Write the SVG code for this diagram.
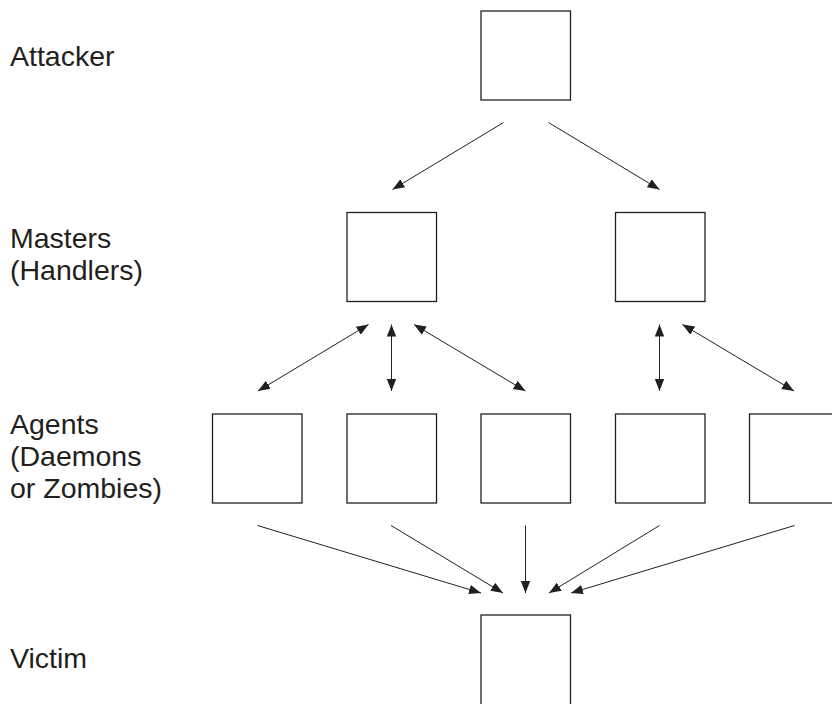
<svg xmlns="http://www.w3.org/2000/svg" width="832" height="704" viewBox="0 0 832 704">
  <defs>
    <marker id="arrow" markerUnits="userSpaceOnUse" markerWidth="13" markerHeight="11" viewBox="0 0 13 11" refX="12" refY="5.5" orient="auto-start-reverse">
      <path d="M0,0.8 L12,5.5 L0,10.2 z" fill="#231f20"/>
    </marker>
  </defs>
  <style>
    .box { fill: #ffffff; stroke: #231f20; stroke-width: 1.3; }
    .link { fill: none; stroke: #231f20; stroke-width: 1; }
    .one { marker-end: url(#arrow); }
    .two { marker-start: url(#arrow); marker-end: url(#arrow); }
    .label { font-family: "Liberation Sans", Arial, sans-serif; font-size: 28.5px; fill: #231f20; }
  </style>
  <rect width="832" height="704" fill="#ffffff"/>

  <!-- tier labels -->
  <g id="labels">
    <text class="label" x="10" y="66">Attacker</text>
    <text class="label" x="10" y="248">Masters</text>
    <text class="label" x="10" y="280">(Handlers)</text>
    <text class="label" x="10" y="434">Agents</text>
    <text class="label" x="10" y="466">(Daemons</text>
    <text class="label" x="10" y="498">or Zombies)</text>
    <text class="label" x="10" y="668">Victim</text>
  </g>

  <!-- nodes -->
  <g id="attacker"><rect class="box" x="481" y="11" width="89.5" height="89"/></g>
  <g id="master-1"><rect class="box" x="347" y="212.5" width="89.5" height="89"/></g>
  <g id="master-2"><rect class="box" x="615.5" y="212.5" width="89.5" height="89"/></g>
  <g id="agent-1"><rect class="box" x="212.5" y="414" width="89.5" height="89"/></g>
  <g id="agent-2"><rect class="box" x="347" y="414" width="89.5" height="89"/></g>
  <g id="agent-3"><rect class="box" x="481" y="414" width="89.5" height="89"/></g>
  <g id="agent-4"><rect class="box" x="615.5" y="414" width="89.5" height="89"/></g>
  <g id="agent-5"><rect class="box" x="749.5" y="414" width="89.5" height="89"/></g>
  <g id="victim"><rect class="box" x="481" y="615" width="89.5" height="100"/></g>

  <!-- connectors -->
  <g id="connectors">
    <!-- attacker to masters -->
    <line class="link one" x1="503.5" y1="122.5" x2="392.5" y2="189.5"/>
    <line class="link one" x1="548.5" y1="122.5" x2="659.5" y2="189.5"/>
    <!-- master 1 with agents -->
    <line class="link two" x1="368.5" y1="324.5" x2="258" y2="391"/>
    <line class="link two" x1="391.5" y1="324.5" x2="391.5" y2="391"/>
    <line class="link two" x1="414" y1="324.5" x2="525.5" y2="391"/>
    <!-- master 2 with agents -->
    <line class="link two" x1="659.5" y1="324.5" x2="659.5" y2="391"/>
    <line class="link two" x1="682.5" y1="324.5" x2="794" y2="391"/>
    <!-- agents to victim -->
    <line class="link one" x1="257.5" y1="525.5" x2="481" y2="593"/>
    <line class="link one" x1="391" y1="525.5" x2="503" y2="593"/>
    <line class="link one" x1="525.5" y1="525.5" x2="525.5" y2="593"/>
    <line class="link one" x1="659.5" y1="525.5" x2="549" y2="593"/>
    <line class="link one" x1="794.5" y1="525.5" x2="571" y2="593"/>
  </g>
</svg>
